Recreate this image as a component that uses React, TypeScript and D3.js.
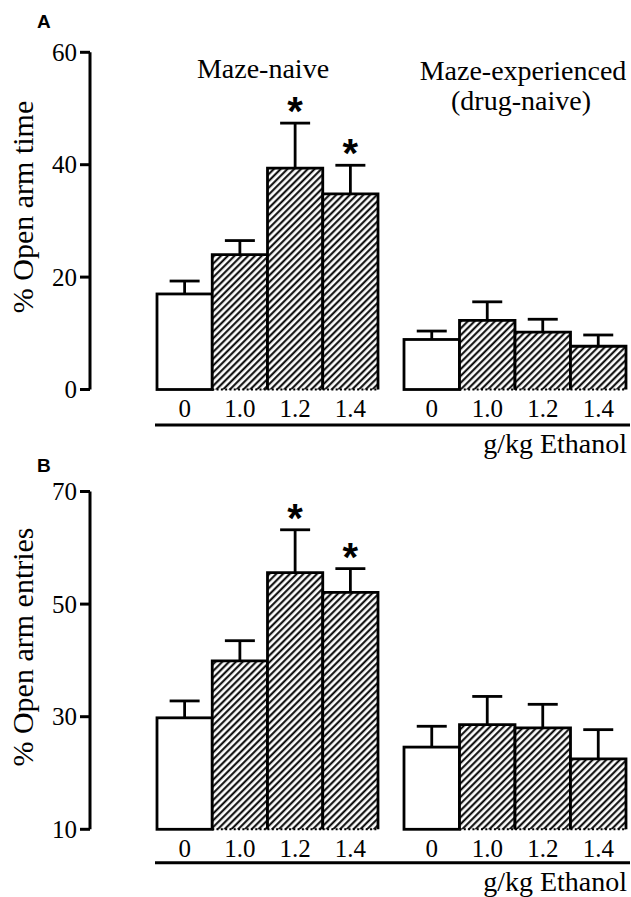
import React from "react";
import * as d3 from "d3";

// doses (g/kg ethanol)
const doses = ["0", "1.0", "1.2", "1.4"];
const groups = ["Maze-naive", "Maze-experienced"];

// panel A: % open arm time
const timeNaive = [17.0, 24.0, 39.4, 34.8];
const timeNaiveSem = [2.3, 2.5, 8.0, 5.1];
const timeExp = [8.9, 12.3, 10.2, 7.7];
const timeExpSem = [1.5, 3.3, 2.3, 2.0];
const timeTicks = [0, 20, 40, 60];

// panel B: % open arm entries
const entriesNaive = [29.8, 39.9, 55.6, 52.1];
const entriesNaiveSem = [3.0, 3.6, 7.6, 4.2];
const entriesExp = [24.6, 28.6, 28.0, 22.5];
const entriesExpSem = [3.7, 5.0, 4.2, 5.2];
const entriesTicks = [10, 30, 50, 70];

// significant vs saline (naive group only)
const starred = ["1.2", "1.4"];

const SERIF = "'Liberation Serif', 'Times New Roman', serif";
const SANS = "'Liberation Sans', Arial, sans-serif";

const xNaive = d3.scaleBand().domain(doses).range([157, 378]).paddingInner(0);
const xExp = d3.scaleBand().domain(doses).range([404, 626]).paddingInner(0);

function Bars({ x, y, means, sems, stars }) {
  const base = y(y.domain()[0]);
  const w = x.bandwidth();
  return (
    <g>
      {doses.map((d, i) => {
        const x0 = x(d);
        const top = y(means[i]);
        const cx = x0 + w / 2;
        const capY = y(means[i] + sems[i]);
        const hatched = i > 0;
        return (
          <g key={d}>
            <rect
              x={x0}
              y={top}
              width={w}
              height={base - top}
              fill={hatched ? "url(#hatch)" : "#fff"}
            />
            <line x1={cx} x2={cx} y1={top} y2={capY} stroke="#000" strokeWidth={2.8} />
            <line x1={cx - 15} x2={cx + 15} y1={capY} y2={capY} stroke="#000" strokeWidth={2.8} />
            {hatched ? (
              <g>
                <path
                  d={`M${x0},${base} V${top} H${x0 + w} V${base}`}
                  fill="none"
                  stroke="#000"
                  strokeWidth={2.8}
                />
                <line
                  x1={x0}
                  x2={x0 + w}
                  y1={base}
                  y2={base}
                  stroke="#000"
                  strokeWidth={2}
                  strokeDasharray="2,2.3"
                />
              </g>
            ) : (
              <rect
                x={x0}
                y={top}
                width={w}
                height={base - top}
                fill="none"
                stroke="#000"
                strokeWidth={2.8}
              />
            )}
            {stars && starred.includes(d) && (
              <text
                x={cx}
                y={capY + 12}
                textAnchor="middle"
                fontFamily={SANS}
                fontWeight="bold"
                fontSize={40}
                dy="-0.25em"
              >
                *
              </text>
            )}
          </g>
        );
      })}
    </g>
  );
}

function Panel({ letter, letterY, y, ticks, label, labelY, naive, naiveSem, exp, expSem, lineY, titles }) {
  const [r0, r1] = y.range();
  return (
    <g>
      <text x={37} y={letterY} fontFamily={SANS} fontWeight="bold" fontSize={19}>
        {letter}
      </text>
      {/* y axis */}
      <line x1={90} x2={90} y1={r1} y2={r0} stroke="#000" strokeWidth={3} />
      {ticks.map((t) => (
        <g key={t}>
          <line x1={80} x2={90} y1={y(t)} y2={y(t)} stroke="#000" strokeWidth={3} />
          <text
            x={77}
            y={y(t)}
            dy="0.35em"
            textAnchor="end"
            fontFamily={SERIF}
            fontSize={25}
          >
            {t}
          </text>
        </g>
      ))}
      <text
        transform={`translate(33,${labelY}) rotate(-90)`}
        textAnchor="middle"
        fontFamily={SERIF}
        fontSize={30}
      >
        {label}
      </text>
      {titles && (
        <g fontFamily={SERIF} fontSize={28} textAnchor="middle">
          <text x={263} y={78}>{groups[0]}</text>
          <text x={523} y={80}>{groups[1]}</text>
          <text x={521} y={110}>(drug-naive)</text>
        </g>
      )}
      <Bars x={xNaive} y={y} means={naive} sems={naiveSem} stars={true} />
      <Bars x={xExp} y={y} means={exp} sems={expSem} stars={false} />
      {/* dose labels */}
      {[xNaive, xExp].map((x, k) =>
        doses.map((d) => (
          <text
            key={k + d}
            x={x(d) + x.bandwidth() / 2}
            y={r0 + 27.5}
            textAnchor="middle"
            fontFamily={SERIF}
            fontSize={25}
          >
            {d}
          </text>
        ))
      )}
      <line x1={155} x2={630} y1={lineY} y2={lineY} stroke="#000" strokeWidth={3} />
      <text x={627} y={lineY + 28} textAnchor="end" fontFamily={SERIF} fontSize={28}>
        g/kg Ethanol
      </text>
    </g>
  );
}

export default function App() {
  const yA = d3.scaleLinear().domain([0, 60]).range([389.5, 52.3]);
  const yB = d3.scaleLinear().domain([10, 70]).range([829.3, 491.5]);
  return (
    <svg
      width={631}
      height={897}
      style={{ position: "absolute", left: 0, top: 0, background: "#fff" }}
    >
      <defs>
        <pattern
          id="hatch"
          width={4.8}
          height={4.8}
          patternUnits="userSpaceOnUse"
          patternTransform="rotate(45)"
        >
          <rect width={4.8} height={4.8} fill="#fff" />
          <line x1={1.2} y1={0} x2={1.2} y2={4.8} stroke="#000" strokeWidth={2} />
        </pattern>
      </defs>
      <Panel
        letter="A"
        letterY={28}
        y={yA}
        ticks={timeTicks}
        label="% Open arm time"
        labelY={207}
        naive={timeNaive}
        naiveSem={timeNaiveSem}
        exp={timeExp}
        expSem={timeExpSem}
        lineY={425}
        titles={true}
      />
      <Panel
        letter="B"
        letterY={472}
        y={yB}
        ticks={entriesTicks}
        label="% Open arm entries"
        labelY={647}
        naive={entriesNaive}
        naiveSem={entriesNaiveSem}
        exp={entriesExp}
        expSem={entriesExpSem}
        lineY={862.7}
        titles={false}
      />
    </svg>
  );
}
